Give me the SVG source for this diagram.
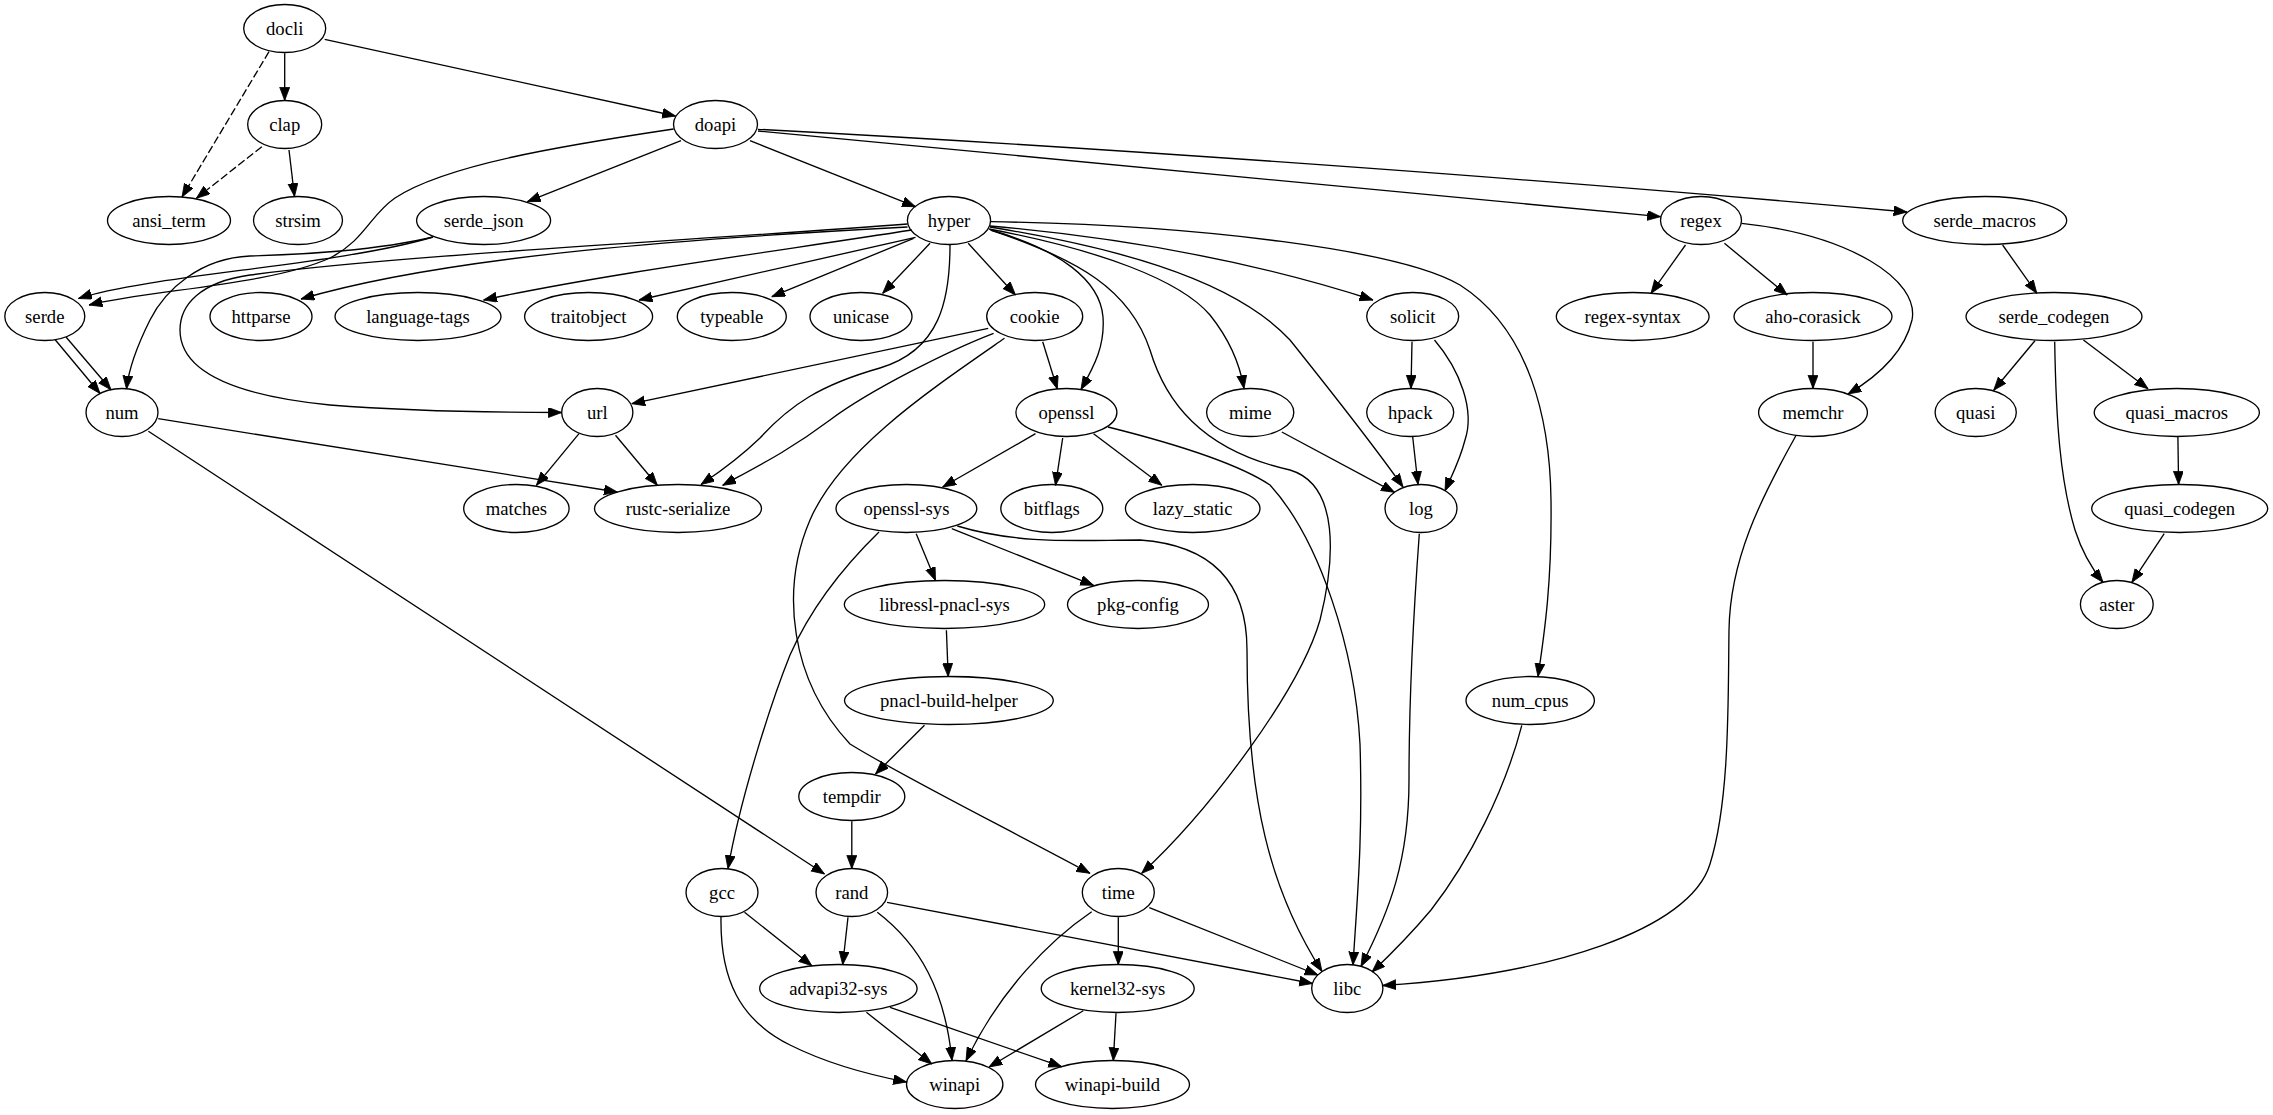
<svg xmlns="http://www.w3.org/2000/svg" width="2273" height="1115" viewBox="0 0 2273 1115">
<style>
.n ellipse{fill:none;stroke:#000;stroke-width:1.33}
.n text{font-family:"Liberation Serif","Times New Roman",serif;font-size:18.67px;text-anchor:middle;fill:#000}
.e path{fill:none;stroke:#000;stroke-width:1.33;marker-end:url(#ah)}
.e path.d{stroke-dasharray:8,3}
</style>
<defs>
<marker id="ah" markerUnits="userSpaceOnUse" markerWidth="14" markerHeight="11" refX="13.3" refY="5" orient="auto">
<path d="M0,0 L13.3,5 L0,10 z" fill="#000" stroke="#000" stroke-width="0.8"/>
</marker>
</defs>
<rect x="0" y="0" width="2273" height="1115" fill="#fff"/>
<g id="edges" class="e">
<path d="M284.7,53.3 L284.7,100.5"/>
<path class="d" d="M269,51.7 L182,197"/>
<path d="M324.7,39.3 L675.5,116"/>
<path class="d" d="M261.8,146.7 L196.4,198.3"/>
<path d="M289,150 L294.5,196.5"/>
<path d="M681,140.7 L527.3,201.7"/>
<path d="M750,140.7 L915.5,206.7"/>
<path d="M758,131 L1660.5,216.7"/>
<path d="M758,129.3 C1150,150 1600,184 1907,212"/>
<path d="M673.6,129 C560,146 445,165 395,198 C370,215 365,240 330,258 C270,285 150,290 89,305"/>
<path d="M433,237 C340,265 150,275 78.5,298.5"/>
<path d="M433,237 C380,250 300,255 250,256 C200,258 165,290 150,320 C135,350 128,375 126.5,389"/>
<path d="M55,339.5 L100,393.5"/>
<path d="M66,337 L111,389.8"/>
<path d="M907.5,224 C700,240 400,255 250,275 C200,282 180,305 180,330 C180,370 230,395 330,405 C420,412 500,412.5 561.7,412.5"/>
<path d="M907.5,227 C700,238 450,255 301,299"/>
<path d="M911.8,230 C750,255 600,275 483.6,300"/>
<path d="M915.5,237.3 L639,300"/>
<path d="M913.6,238.3 L771.8,296.7"/>
<path d="M930,243.3 L882.7,293.3"/>
<path d="M968.2,243.3 L1015.5,295"/>
<path d="M950,245 C950,300 940,350 880,368 C820,385 790,405 760,438 C735,462 715,475 701,484.5"/>
<path d="M990.7,230 C1060,250 1100,280 1103,317 C1105,345 1095,365 1081,389.5"/>
<path d="M990.7,230 C1080,260 1130,290 1150,350 C1165,400 1200,450 1290,470 C1340,485 1335,560 1320,620 C1300,690 1210,810 1141.7,873.3"/>
<path d="M989,229 C1100,250 1180,280 1210,315 C1230,340 1240,365 1244,388.5"/>
<path d="M990,227 C1100,245 1230,275 1290,340 C1330,390 1370,440 1403,487"/>
<path d="M990,226 C1150,240 1280,270 1373,300"/>
<path d="M990.7,221.7 C1200,225 1400,250 1460,285 C1530,330 1550,420 1551,500 C1552,580 1545,630 1538,676.6"/>
<path d="M988.2,328.3 L631.8,403.7"/>
<path d="M993.6,333.3 C950,350 870,390 830,420 C790,450 760,465 722.7,485.3"/>
<path d="M1004.5,338.3 C930,390 840,450 810,520 C780,590 790,680 850,744 C900,775 1000,825 1090,873.3"/>
<path d="M1042.7,341.7 L1057.3,389"/>
<path d="M579,433.7 L536.4,485.3"/>
<path d="M615.5,435.3 L657.3,485.3"/>
<path d="M158.2,418.7 L617.3,492"/>
<path d="M148.4,431.3 L824.5,874"/>
<path d="M1035.5,433.7 L942.7,487"/>
<path d="M1062.7,438 L1055.5,485.3"/>
<path d="M1093.6,433.7 L1161.8,485.3"/>
<path d="M1108,427 C1180,445 1240,465 1270,485 C1320,540 1355,650 1360,744 C1363,840 1357,900 1353,965"/>
<path d="M916.2,533.7 L935.5,580.5"/>
<path d="M951.8,528.7 L1093.6,585.3"/>
<path d="M879,532 C840,570 810,610 790,655 C770,705 740,800 728,868.7"/>
<path d="M957.3,526 C1020,545 1080,540 1140,540 C1210,545 1247,580 1247,650 C1247,800 1270,890 1322,971.5"/>
<path d="M946.4,630.3 L948.2,676.6"/>
<path d="M924.5,725.3 L875.5,774"/>
<path d="M851.8,821.3 L851.8,868.7"/>
<path d="M744.5,912.3 L811.8,965.7"/>
<path d="M721,917 C720,980 740,1020 790,1045 C830,1065 870,1075 906.5,1082"/>
<path d="M848,917.3 L842.7,964.7"/>
<path d="M877.3,912.3 C920,945 945,990 952,1060.5"/>
<path d="M887,902.3 L1312.5,983.5"/>
<path d="M1091.7,911.7 C1050,940 1000,990 966,1061"/>
<path d="M1118.3,917.3 L1118.3,964.7"/>
<path d="M1149.3,907.7 L1318,975"/>
<path d="M866.4,1012.3 L931.8,1064"/>
<path d="M890,1007.3 L1061.7,1066.7"/>
<path d="M1083.3,1010.7 L989,1067"/>
<path d="M1116,1013.3 L1113.3,1060.7"/>
<path d="M1419.3,533.7 C1413,620 1409,700 1409,780 C1409,860 1390,910 1361,966.5"/>
<path d="M1521.8,725.3 C1505,790 1470,860 1431,910 C1410,935 1390,955 1372,972"/>
<path d="M1796,435.5 C1760,500 1730,560 1729,630 C1728,700 1730,800 1710,864 C1690,930 1550,975 1382.7,985.5"/>
<path d="M1281.8,432 L1394.5,492.3"/>
<path d="M1412,341.7 L1411,388.5"/>
<path d="M1434.5,340 C1460,370 1475,410 1465,440 C1460,460 1452,475 1445,491"/>
<path d="M1412.7,437 L1418,484.5"/>
<path d="M1685.5,245 L1651,293.3"/>
<path d="M1724.4,243.3 L1787.2,295"/>
<path d="M1741.6,223.3 C1850,235 1920,280 1912,320 C1905,350 1880,375 1848,394"/>
<path d="M1813,341.7 L1813,388.5"/>
<path d="M2002.6,245 L2036.8,293.3"/>
<path d="M2035,340.7 L1993.7,390.3"/>
<path d="M2083.4,340 L2148,388.7"/>
<path d="M2054.7,341.7 C2056,420 2060,480 2075,530 C2083,555 2093,570 2103,582.3"/>
<path d="M2177.9,437 L2178.6,484.5"/>
<path d="M2164.2,533.7 L2131.9,582.3"/>
</g>
<g id="node-docli" class="n"><ellipse cx="284.7" cy="28.5" rx="41" ry="24"/><text x="284.7" y="34.5">docli</text></g>
<g id="node-clap" class="n"><ellipse cx="284.7" cy="124.5" rx="37" ry="24"/><text x="284.7" y="130.5">clap</text></g>
<g id="node-doapi" class="n"><ellipse cx="715.5" cy="124.5" rx="42" ry="24"/><text x="715.5" y="130.5">doapi</text></g>
<g id="node-ansi_term" class="n"><ellipse cx="169" cy="220.5" rx="61.5" ry="24"/><text x="169" y="226.5">ansi_term</text></g>
<g id="node-strsim" class="n"><ellipse cx="298" cy="220.5" rx="44.5" ry="24"/><text x="298" y="226.5">strsim</text></g>
<g id="node-serde_json" class="n"><ellipse cx="483.6" cy="220.5" rx="67" ry="24"/><text x="483.6" y="226.5">serde_json</text></g>
<g id="node-hyper" class="n"><ellipse cx="949" cy="220.5" rx="41.6" ry="24"/><text x="949" y="226.5">hyper</text></g>
<g id="node-regex" class="n"><ellipse cx="1701" cy="220.5" rx="40.5" ry="24"/><text x="1701" y="226.5">regex</text></g>
<g id="node-serde_macros" class="n"><ellipse cx="1984.7" cy="220.5" rx="82" ry="24"/><text x="1984.7" y="226.5">serde_macros</text></g>
<g id="node-serde" class="n"><ellipse cx="44.8" cy="316.5" rx="40" ry="24"/><text x="44.8" y="322.5">serde</text></g>
<g id="node-httparse" class="n"><ellipse cx="261" cy="316.5" rx="51" ry="24"/><text x="261" y="322.5">httparse</text></g>
<g id="node-language-tags" class="n"><ellipse cx="418" cy="316.5" rx="83" ry="24"/><text x="418" y="322.5">language-tags</text></g>
<g id="node-traitobject" class="n"><ellipse cx="588.6" cy="316.5" rx="64" ry="24"/><text x="588.6" y="322.5">traitobject</text></g>
<g id="node-typeable" class="n"><ellipse cx="731.8" cy="316.5" rx="54.5" ry="24"/><text x="731.8" y="322.5">typeable</text></g>
<g id="node-unicase" class="n"><ellipse cx="861" cy="316.5" rx="51" ry="24"/><text x="861" y="322.5">unicase</text></g>
<g id="node-cookie" class="n"><ellipse cx="1034.7" cy="316.5" rx="48" ry="24"/><text x="1034.7" y="322.5">cookie</text></g>
<g id="node-solicit" class="n"><ellipse cx="1412.7" cy="316.5" rx="46" ry="24"/><text x="1412.7" y="322.5">solicit</text></g>
<g id="node-regex-syntax" class="n"><ellipse cx="1632.7" cy="316.5" rx="76.4" ry="24"/><text x="1632.7" y="322.5">regex-syntax</text></g>
<g id="node-aho-corasick" class="n"><ellipse cx="1813" cy="316.5" rx="79" ry="24"/><text x="1813" y="322.5">aho-corasick</text></g>
<g id="node-serde_codegen" class="n"><ellipse cx="2054" cy="316.5" rx="88" ry="24"/><text x="2054" y="322.5">serde_codegen</text></g>
<g id="node-num" class="n"><ellipse cx="122" cy="412.5" rx="36" ry="24"/><text x="122" y="418.5">num</text></g>
<g id="node-url" class="n"><ellipse cx="597.3" cy="412.5" rx="35.6" ry="24"/><text x="597.3" y="418.5">url</text></g>
<g id="node-openssl" class="n"><ellipse cx="1066.4" cy="412.5" rx="50.5" ry="24"/><text x="1066.4" y="418.5">openssl</text></g>
<g id="node-mime" class="n"><ellipse cx="1250.2" cy="412.5" rx="43.6" ry="24"/><text x="1250.2" y="418.5">mime</text></g>
<g id="node-hpack" class="n"><ellipse cx="1410.2" cy="412.5" rx="43.5" ry="24"/><text x="1410.2" y="418.5">hpack</text></g>
<g id="node-memchr" class="n"><ellipse cx="1813" cy="412.5" rx="54.4" ry="24"/><text x="1813" y="418.5">memchr</text></g>
<g id="node-quasi" class="n"><ellipse cx="1975.7" cy="412.5" rx="40.6" ry="24"/><text x="1975.7" y="418.5">quasi</text></g>
<g id="node-quasi_macros" class="n"><ellipse cx="2176.8" cy="412.5" rx="82.6" ry="24"/><text x="2176.8" y="418.5">quasi_macros</text></g>
<g id="node-matches" class="n"><ellipse cx="516.4" cy="508.5" rx="52.7" ry="24"/><text x="516.4" y="514.5">matches</text></g>
<g id="node-rustc-serialize" class="n"><ellipse cx="678" cy="508.5" rx="83.5" ry="24"/><text x="678" y="514.5">rustc-serialize</text></g>
<g id="node-openssl-sys" class="n"><ellipse cx="906.4" cy="508.5" rx="70.4" ry="24"/><text x="906.4" y="514.5">openssl-sys</text></g>
<g id="node-bitflags" class="n"><ellipse cx="1051.8" cy="508.5" rx="51" ry="24"/><text x="1051.8" y="514.5">bitflags</text></g>
<g id="node-lazy_static" class="n"><ellipse cx="1192.7" cy="508.5" rx="67.3" ry="24"/><text x="1192.7" y="514.5">lazy_static</text></g>
<g id="node-log" class="n"><ellipse cx="1421" cy="508.5" rx="36" ry="24"/><text x="1421" y="514.5">log</text></g>
<g id="node-quasi_codegen" class="n"><ellipse cx="2179.7" cy="508.5" rx="88" ry="24"/><text x="2179.7" y="514.5">quasi_codegen</text></g>
<g id="node-libressl-pnacl-sys" class="n"><ellipse cx="944.5" cy="604.5" rx="100.2" ry="24"/><text x="944.5" y="610.5">libressl-pnacl-sys</text></g>
<g id="node-pkg-config" class="n"><ellipse cx="1138" cy="604.5" rx="70.5" ry="24"/><text x="1138" y="610.5">pkg-config</text></g>
<g id="node-aster" class="n"><ellipse cx="2116.8" cy="604.5" rx="36.4" ry="24"/><text x="2116.8" y="610.5">aster</text></g>
<g id="node-pnacl-build-helper" class="n"><ellipse cx="948.9" cy="700.5" rx="104.4" ry="24"/><text x="948.9" y="706.5">pnacl-build-helper</text></g>
<g id="node-num_cpus" class="n"><ellipse cx="1530.2" cy="700.5" rx="64.2" ry="24"/><text x="1530.2" y="706.5">num_cpus</text></g>
<g id="node-tempdir" class="n"><ellipse cx="851.8" cy="796.5" rx="53" ry="24"/><text x="851.8" y="802.5">tempdir</text></g>
<g id="node-gcc" class="n"><ellipse cx="722" cy="892.5" rx="36" ry="24"/><text x="722" y="898.5">gcc</text></g>
<g id="node-rand" class="n"><ellipse cx="851.8" cy="892.5" rx="35.8" ry="24"/><text x="851.8" y="898.5">rand</text></g>
<g id="node-time" class="n"><ellipse cx="1118.3" cy="892.5" rx="36" ry="24"/><text x="1118.3" y="898.5">time</text></g>
<g id="node-advapi32-sys" class="n"><ellipse cx="838.4" cy="988.5" rx="78.7" ry="24"/><text x="838.4" y="994.5">advapi32-sys</text></g>
<g id="node-kernel32-sys" class="n"><ellipse cx="1117.7" cy="988.5" rx="76.5" ry="24"/><text x="1117.7" y="994.5">kernel32-sys</text></g>
<g id="node-libc" class="n"><ellipse cx="1347.3" cy="988.5" rx="35.6" ry="24"/><text x="1347.3" y="994.5">libc</text></g>
<g id="node-winapi" class="n"><ellipse cx="954.7" cy="1084.5" rx="48.2" ry="24"/><text x="954.7" y="1090.5">winapi</text></g>
<g id="node-winapi-build" class="n"><ellipse cx="1112.5" cy="1084.5" rx="77" ry="24"/><text x="1112.5" y="1090.5">winapi-build</text></g>
</svg>
